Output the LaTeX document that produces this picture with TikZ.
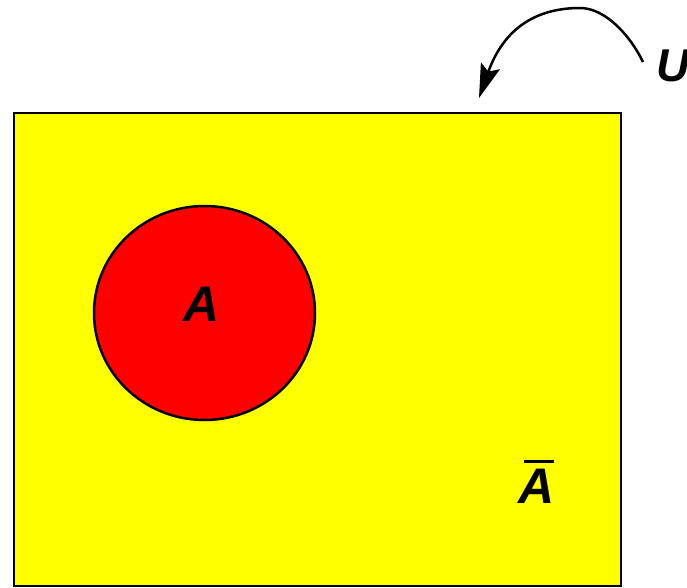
\documentclass[tikz,border=0pt]{standalone}
\usepackage{fontspec}
\setmainfont{Liberation Sans}
\usetikzlibrary{arrows.meta,shapes.geometric}
\definecolor{uyellow}{RGB}{255,255,0}
\definecolor{ared}{RGB}{255,0,0}
\tikzset{
  lbl/.style={font=\fontsize{50}{50}\selectfont\bfseries\itshape, inner sep=0pt},
  edge/.style={draw=black, line width=2.5pt}
}
\begin{document}
\begin{tikzpicture}[x=1pt,y=-1pt]
\useasboundingbox (0,0) rectangle (687,588);
\fill[white] (0,0) rectangle (687,588);
\path[edge, fill=uyellow] (14,113) rectangle (621,586);
\node[edge, fill=ared, ellipse, minimum width=221pt, minimum height=214pt, inner sep=0pt] (A) at (204.5,313) {};
\node[lbl] (Alabel) at (202,304) {A};
\node[lbl, anchor=base west] (Abar) at (518,503) {\rlap{\hspace{6pt}\rule[40pt]{30pt}{3pt}}A};
\node[lbl, font=\fontsize{46}{46}\selectfont\bfseries\itshape, anchor=base west] (U) at (656,82) {U};
\coordinate (start) at (643,62);
\coordinate (peak) at (580,8);
\coordinate (tip) at (479,98);
\draw[line width=2.5pt, -{Stealth[length=34pt,width=20pt,inset=6pt]}] (start) .. controls (630,35) and (605,8) .. (peak) .. controls (540,8) and (505,25) .. (tip);
\end{tikzpicture}
\end{document}
